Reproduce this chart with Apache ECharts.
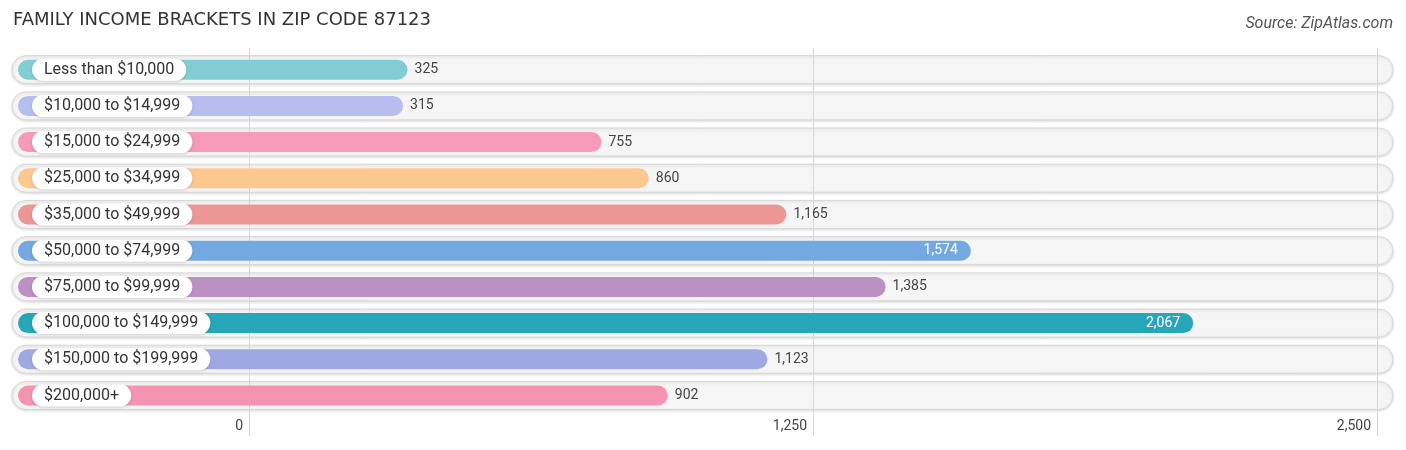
<!DOCTYPE html>
<html>
<head>
<meta charset="utf-8">
<script src="https://cdn.jsdelivr.net/npm/echarts@6/dist/echarts.min.js"></script>
<style>
  html, body { margin: 0; padding: 0; background: #fff; }
  #chart { width: 1406px; height: 450px; }
</style>
</head>
<body>
<div id="chart"></div>
<script>
// data
var categories = ['Less than $10,000', '$10,000 to $14,999', '$15,000 to $24,999', '$25,000 to $34,999',
  '$35,000 to $49,999', '$50,000 to $74,999', '$75,000 to $99,999', '$100,000 to $149,999',
  '$150,000 to $199,999', '$200,000+'];
var values = [325, 315, 755, 860, 1165, 1574, 1385, 2067, 1123, 902];
var barColors = ['#82cdd3', '#b7bdee', '#f59ab9', '#fcc88f', '#ec9795', '#74a8e1', '#bb91c3', '#26a6b8', '#a0a8e3', '#f593b2'];
var tickValues = [0, 1250, 2500];

var FONT = 'Roboto, "Noto Sans", sans-serif';
var maxVal = Math.max.apply(null, values);
var fmt = function (v) { return v.toLocaleString('en-US'); };

var seriesData = values.map(function (v, i) { return [v, i]; });

var chart = echarts.init(document.getElementById('chart'));

chart.setOption({
  animation: false,
  title: [{
    text: 'FAMILY INCOME BRACKETS IN ZIP CODE 87123',
    left: 13, top: 11, padding: 0,
    textStyle: { fontFamily: '"DejaVu Sans", sans-serif', fontSize: 18, fontWeight: 'normal', color: '#333' }
  }, {
    text: 'Source: ZipAtlas.com',
    right: 13, top: 16, padding: 0,
    textStyle: { fontFamily: FONT, fontSize: 16, fontWeight: 'normal', fontStyle: 'italic', color: '#555' }
  }],
  grid: [
    { left: 12, right: 13, top: 51.6, bottom: 36.4 },
    { left: 249, right: 29, top: 48, bottom: 14 }
  ],
  xAxis: [{
    // bar scale: zero sits at x ~261, ~0.451 px per unit
    gridIndex: 0, type: 'value', min: -552, max: 2510, show: false
  }, {
    gridIndex: 1, type: 'value', min: 0, max: 2500, interval: 1250, z: 3,
    axisLine: { show: false }, axisTick: { show: false },
    splitLine: { show: true, lineStyle: { color: '#d6d6d6', width: 1 } },
    axisLabel: {
      inside: true, margin: 3, align: 'right', verticalAlign: 'bottom',
      padding: [0, 6, 0, 0],
      fontFamily: FONT, fontSize: 14, color: '#444',
      showMinLabel: true, showMaxLabel: true,
      formatter: function (v) { return tickValues.indexOf(v) >= 0 ? fmt(v) : ''; }
    }
  }],
  yAxis: [{
    gridIndex: 0, type: 'category', data: categories, inverse: true, show: false
  }, {
    gridIndex: 1, type: 'category', data: categories, show: false
  }],
  series: [{
    // grey tracks behind each bar
    type: 'custom', xAxisIndex: 0, yAxisIndex: 0, z: 1, clip: false,
    data: seriesData,
    renderItem: function (params, api) {
      var pt = api.coord([api.value(0), api.value(1)]);
      var cs = params.coordSys;
      return {
        type: 'rect',
        shape: { x: cs.x, y: pt[1] - 14, width: cs.width, height: 28, r: 14 },
        style: {
          fill: '#f5f5f5', stroke: '#d8d8d8', lineWidth: 1,
          shadowBlur: 3, shadowOffsetY: 1, shadowColor: 'rgba(0,0,0,0.14)'
        }
      };
    }
  }, {
    type: 'custom', xAxisIndex: 0, yAxisIndex: 0, z: 5, clip: false,
    data: seriesData,
    renderItem: function (params, api) {
      var v = api.value(0), i = api.value(1);
      var pt = api.coord([v, i]);
      var cs = params.coordSys;
      var x0 = cs.x + 6;
      var yc = pt[1];
      var inside = v / maxVal > 0.7;
      var children = [{
        type: 'rect',
        shape: { x: x0, y: yc - 10, width: pt[0] - x0, height: 20, r: 10 },
        style: { fill: barColors[i] }
      }, {
        type: 'text',
        x: cs.x + 20, y: yc,
        style: {
          text: categories[i], fontFamily: FONT, fontSize: 16, fill: '#333',
          verticalAlign: 'middle', align: 'left',
          backgroundColor: '#fff', borderRadius: 11, padding: [3, 12, 3, 12],
          shadowBlur: 3, shadowOffsetY: 1, shadowColor: 'rgba(0,0,0,0.15)'
        }
      }, {
        type: 'text',
        x: inside ? pt[0] - 13 : pt[0] + 7, y: yc,
        style: {
          text: fmt(v), fontFamily: FONT, fontSize: 14,
          fill: inside ? '#fff' : '#444',
          align: inside ? 'right' : 'left', verticalAlign: 'middle'
        }
      }];
      return { type: 'group', children: children };
    }
  }]
});
</script>
</body>
</html>
